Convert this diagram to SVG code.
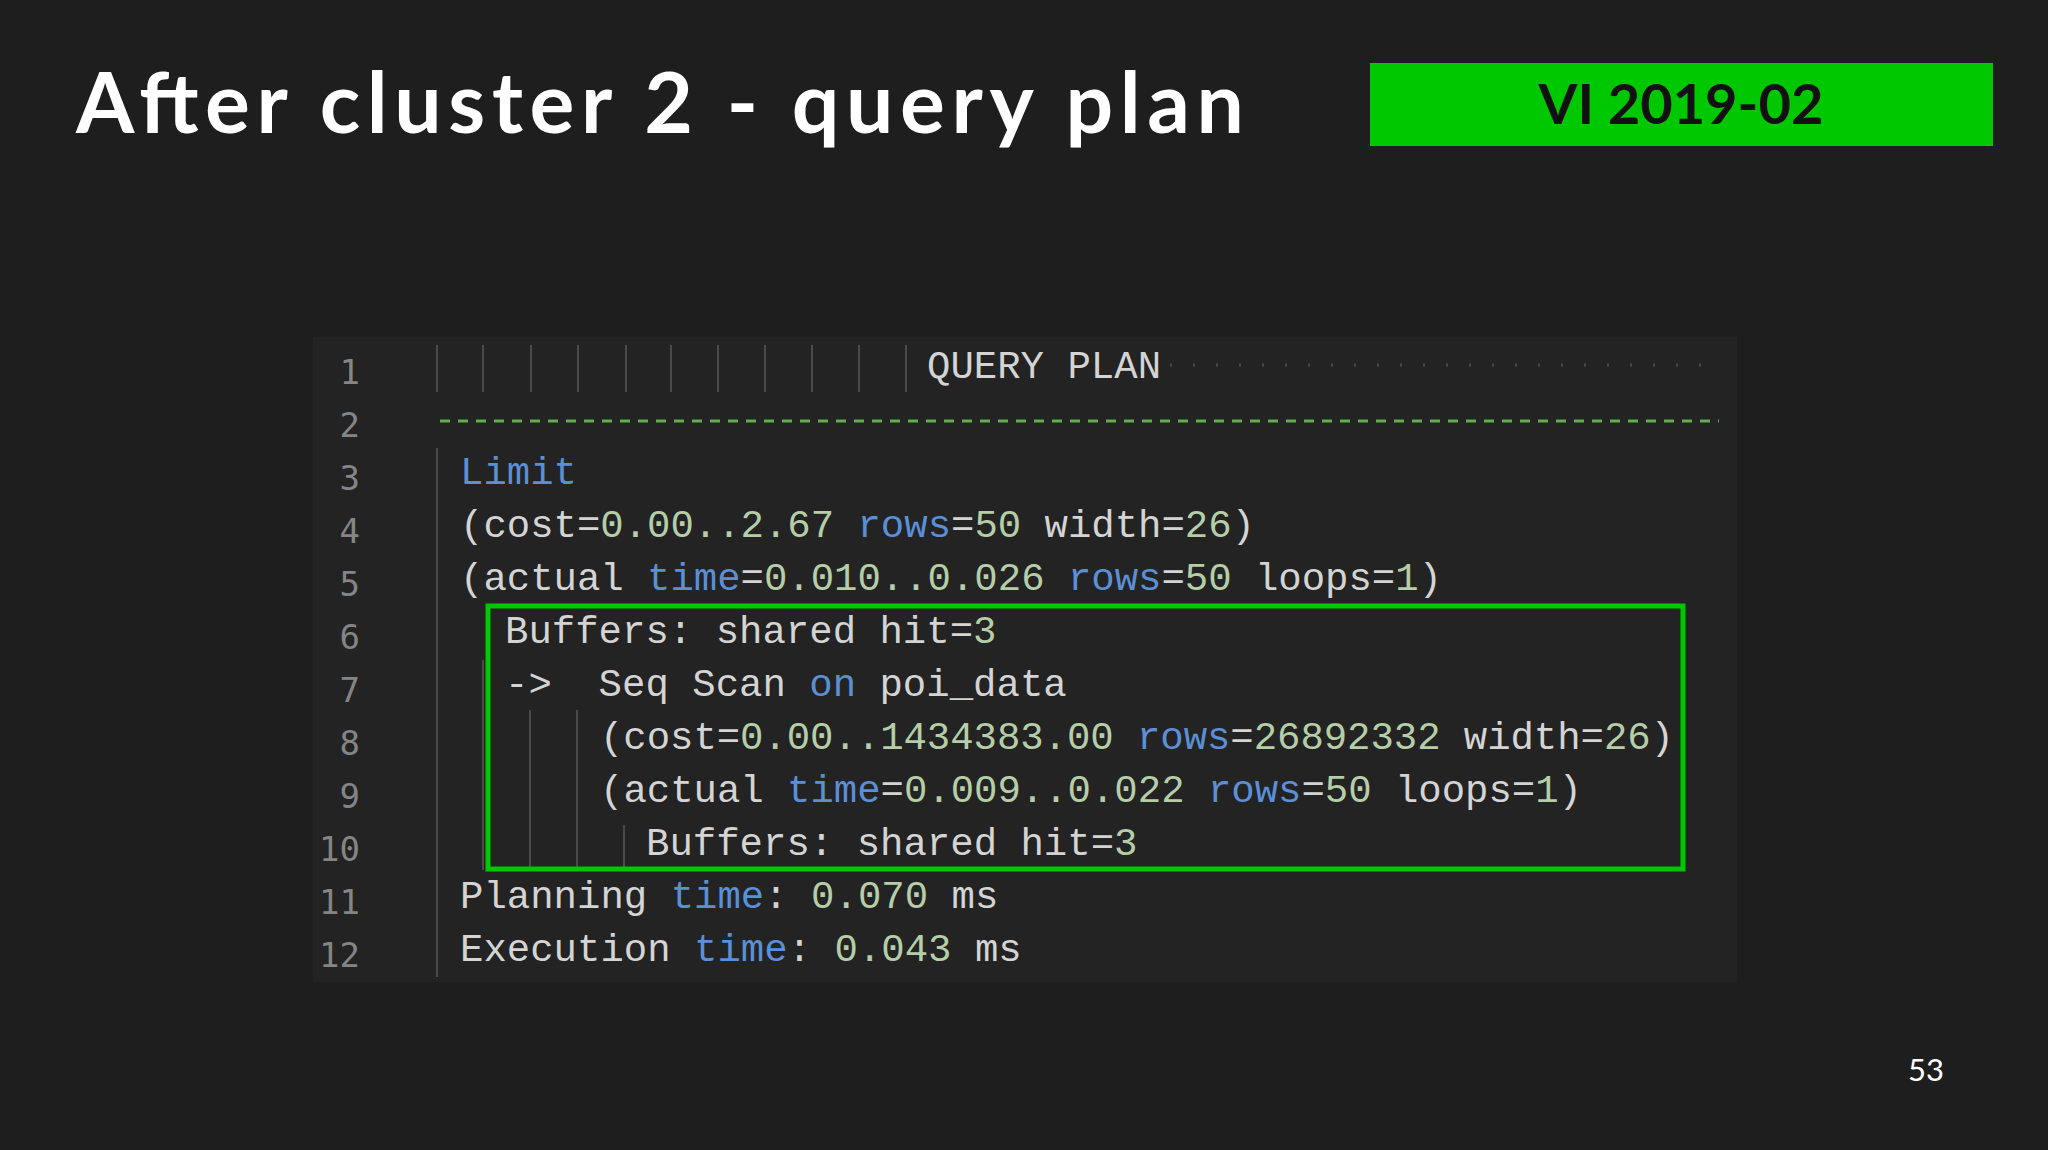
<svg xmlns="http://www.w3.org/2000/svg" width="2048" height="1150" viewBox="0 0 2048 1150">
<style>
.code{font-family:"Liberation Mono","DejaVu Sans Mono",monospace;font-size:39px;fill:#d4d4d4;white-space:pre}
.ln{font-family:"DejaVu Sans Mono","Liberation Mono",monospace;font-size:34px;fill:#858585;text-anchor:end}
.k{fill:#5b8fd6}.n{fill:#b5cea8}
.guide{stroke:#4a4a4a;stroke-width:2}
</style>
<rect width="2048" height="1150" fill="#1e1e1e"/>
<g id="title"><text x="76" y="133" font-family="Lato,'Open Sans',sans-serif" font-weight="bold" font-size="84" fill="#ffffff" textLength="1168">After cluster 2 - query plan</text></g>
<g id="badge"><rect x="1370" y="63" width="623" height="83" fill="#00c800"/><text x="1681" y="124" text-anchor="middle" font-family="Lato,sans-serif" font-weight="bold" font-size="56" fill="#111">VI 2019-02</text></g>
<g id="panel">
<rect x="313" y="337" width="1424" height="645" fill="#232323"/>
<g class="guide">
<line x1="437" y1="345" x2="437" y2="392"/><line x1="483" y1="345" x2="483" y2="392"/><line x1="531" y1="345" x2="531" y2="392"/><line x1="578" y1="345" x2="578" y2="392"/><line x1="626" y1="345" x2="626" y2="392"/><line x1="671" y1="345" x2="671" y2="392"/><line x1="718" y1="345" x2="718" y2="392"/><line x1="765" y1="345" x2="765" y2="392"/><line x1="812" y1="345" x2="812" y2="392"/><line x1="859" y1="345" x2="859" y2="392"/><line x1="906" y1="345" x2="906" y2="392"/>
<line x1="437" y1="448" x2="437" y2="977"/>
<line x1="483" y1="660" x2="483" y2="870"/><line x1="530" y1="710" x2="530" y2="870"/><line x1="577" y1="710" x2="577" y2="870"/><line x1="624" y1="825" x2="624" y2="870"/>
</g>
<line x1="1170" y1="365" x2="1719" y2="365" stroke="#4a4a4a" stroke-width="3" stroke-dasharray="2,21"/>
<line x1="440" y1="421" x2="1719" y2="421" stroke="#5fae4a" stroke-width="3" stroke-dasharray="10,8"/>
</g>
<g id="linenums">
<text class="ln" x="360" y="384">1</text><text class="ln" x="360" y="437">2</text><text class="ln" x="360" y="490">3</text><text class="ln" x="360" y="543">4</text><text class="ln" x="360" y="596">5</text><text class="ln" x="360" y="649">6</text><text class="ln" x="360" y="702">7</text><text class="ln" x="360" y="755">8</text><text class="ln" x="360" y="808">9</text><text class="ln" x="360" y="861">10</text><text class="ln" x="360" y="914">11</text><text class="ln" x="360" y="967">12</text>
</g>
<g id="code">
<text class="code" x="927" y="378">QUERY PLAN</text>
<text class="code" x="460" y="484"><tspan class="k">Limit</tspan></text>
<text class="code" x="460" y="537" textLength="795">(cost=<tspan class="n">0.00..2.67</tspan> <tspan class="k">rows</tspan>=<tspan class="n">50</tspan> width=<tspan class="n">26</tspan>)</text>
<text class="code" x="460" y="590" textLength="982">(actual <tspan class="k">time</tspan>=<tspan class="n">0.010..0.026</tspan> <tspan class="k">rows</tspan>=<tspan class="n">50</tspan> loops=<tspan class="n">1</tspan>)</text>
<text class="code" x="505" y="643">Buffers: shared hit=<tspan class="n">3</tspan></text>
<text class="code" x="505" y="696">->  Seq Scan <tspan class="k">on</tspan> poi_data</text>
<text class="code" x="600" y="749" textLength="1074">(cost=<tspan class="n">0.00..1434383.00</tspan> <tspan class="k">rows</tspan>=<tspan class="n">26892332</tspan> width=<tspan class="n">26</tspan>)</text>
<text class="code" x="600" y="802" textLength="982">(actual <tspan class="k">time</tspan>=<tspan class="n">0.009..0.022</tspan> <tspan class="k">rows</tspan>=<tspan class="n">50</tspan> loops=<tspan class="n">1</tspan>)</text>
<text class="code" x="646" y="855">Buffers: shared hit=<tspan class="n">3</tspan></text>
<text class="code" x="460" y="908">Planning <tspan class="k">time</tspan>: <tspan class="n">0.070</tspan> ms</text>
<text class="code" x="460" y="961">Execution <tspan class="k">time</tspan>: <tspan class="n">0.043</tspan> ms</text>
</g>
<g id="highlight"><rect x="488" y="606" width="1195" height="263" fill="none" stroke="#00c800" stroke-width="5"/></g>
<g id="pagenum"><text x="1926" y="1081" text-anchor="middle" font-family="Lato,sans-serif" font-size="31" fill="#ffffff">53</text></g>
</svg>
